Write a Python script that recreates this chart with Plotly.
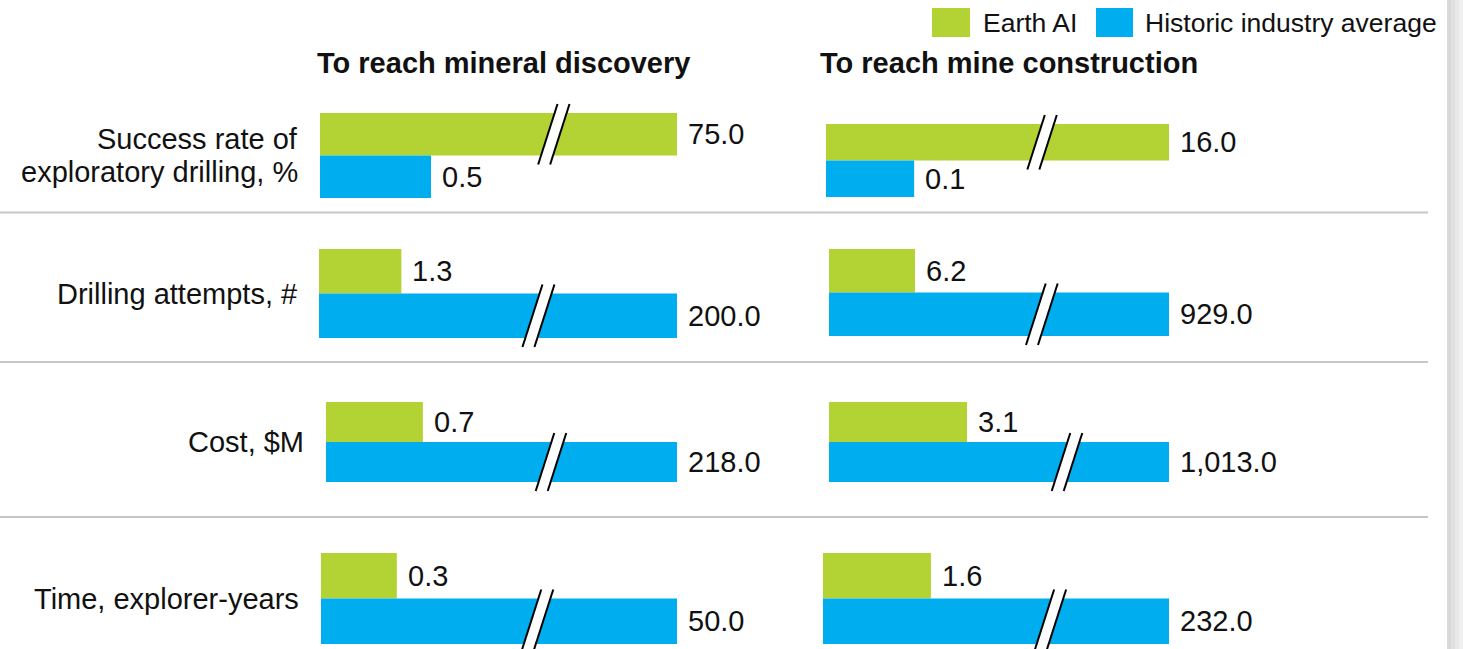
import plotly.graph_objects as go

W, H = 1463, 649

# ---------------- data ----------------
series = ["Earth AI", "Historic industry average"]
colors = ["#B3D335", "#00AEEF"]
metrics = ["Success rate of<br>exploratory drilling, %", "Drilling attempts, #",
           "Cost, $M", "Time, explorer-years"]
panels = ["To reach mineral discovery", "To reach mine construction"]

# reported values (labels)
earth_discovery = [75.0, 1.3, 0.7, 0.3]
hist_discovery = [0.5, 200.0, 218.0, 50.0]
earth_construction = [16.0, 6.2, 3.1, 1.6]
hist_construction = [0.1, 929.0, 1013.0, 232.0]

# drawn bar lengths on the broken axis (% of the full bar width)
earth_discovery_len = [100, 23.0, 27.6, 21.3]
hist_discovery_len = [31.1, 100, 100, 100]
earth_construction_len = [100, 25.3, 40.6, 31.2]
hist_construction_len = [25.7, 100, 100, 100]

# ---------------- layout geometry (pixels) ----------------
# (x start, x end, y top, y bottom) of each row's pair of bars
geom = [
    [(320, 677, 113, 198), (319, 677, 249, 338), (326, 677, 402, 482), (321, 677, 553, 644)],
    [(826, 1169, 124, 197), (829, 1169, 249, 336), (829, 1169, 402, 482), (823, 1169, 553, 644)],
]
break_pos = [[0.655, 0.613, 0.641, 0.607], [0.63, 0.626, 0.70, 0.656]]
title_x = [315, 818]
sep_y = [212.5, 362, 517]

FONT = "Liberation Sans, Arial, Helvetica, sans-serif"
FS = 29
LINE_H = 32


def px(x):
    return x / W


def py(y):
    return 1 - y / H


panel_vals = [(earth_discovery, hist_discovery, earth_discovery_len, hist_discovery_len),
              (earth_construction, hist_construction, earth_construction_len, hist_construction_len)]

fig = go.Figure()
annotations = []
shapes = []
layout_axes = {}

k = 0
for p, (ev, hv, el, hl) in enumerate(panel_vals):
    vals = [ev, hv]
    lens = [el, hl]
    for r in range(4):
        k += 1
        xa = "x" if k == 1 else f"x{k}"
        ya = "y" if k == 1 else f"y{k}"
        x0, x1, yt, yb = geom[p][r]
        for s in range(2):
            fig.add_trace(go.Bar(
                x=[lens[s][r]], y=[series[s]], orientation="h", width=1,
                marker=dict(color=colors[s], line=dict(width=0)),
                xaxis=xa, yaxis=ya, showlegend=False, hoverinfo="skip",
            ))
            annotations.append(dict(
                x=lens[s][r], y=series[s], xref=xa, yref=ya,
                text=f"{vals[s][r]:,.1f}", showarrow=False,
                xanchor="left", yanchor="middle", xshift=9,
                font=dict(family=FONT, size=FS, color="#111"),
            ))
            # break marker on full-length (broken) bars
            if lens[s][r] >= 100:
                bh = (yb - yt) / 2
                btop = yt + s * bh
                yc = btop + bh / 2
                hh = bh / 2 + 9
                cx = x0 + break_pos[p][r] * (x1 - x0)
                slant = 0.32 * 2 * hh
                gap = 12
                ax_b, ax_t = cx - gap / 2 - slant / 2, cx - gap / 2 + slant / 2
                bx_b, bx_t = ax_b + gap, ax_t + gap
                path = (f"M {px(ax_b)},{py(yc + hh)} L {px(ax_t)},{py(yc - hh)} "
                        f"L {px(bx_t)},{py(yc - hh)} L {px(bx_b)},{py(yc + hh)} Z")
                shapes.append(dict(type="path", path=path, xref="paper", yref="paper",
                                   fillcolor="white", line=dict(width=0), layer="above"))
                for (xb, xt) in [(ax_b, ax_t), (bx_b, bx_t)]:
                    shapes.append(dict(type="line", xref="paper", yref="paper",
                                       x0=px(xb), y0=py(yc + hh), x1=px(xt), y1=py(yc - hh),
                                       line=dict(color="black", width=2), layer="above"))
        layout_axes["xaxis" if k == 1 else f"xaxis{k}"] = dict(
            domain=[px(x0), px(x1)], range=[0, 100], visible=False,
            fixedrange=True, anchor=ya)
        layout_axes["yaxis" if k == 1 else f"yaxis{k}"] = dict(
            domain=[py(yb), py(yt)], type="category", categoryorder="array",
            categoryarray=series, range=[1.5, -0.5], visible=False,
            fixedrange=True, anchor=xa)

# row labels (placed left of the left panel bars), one annotation per text line
for r in range(4):
    x0, x1, yt, yb = geom[0][r]
    lines = metrics[r].split("<br>")
    yc = (yt + yb) / 2
    n = len(lines)
    for i, line in enumerate(lines):
        yl = yc + (i - (n - 1) / 2) * LINE_H
        annotations.append(dict(
            x=px(x0 - 20), y=py(yl), xref="paper", yref="paper",
            text=line, showarrow=False, xanchor="right", yanchor="middle",
            align="right", font=dict(family=FONT, size=FS, color="#111"),
        ))

# panel titles
for p in range(2):
    annotations.append(dict(
        x=px(title_x[p]), y=py(63), xref="paper", yref="paper",
        text=f"<b>{panels[p]}</b>", showarrow=False, xanchor="left", yanchor="middle",
        font=dict(family=FONT, size=FS, color="#111"),
    ))

# separators
for y in sep_y:
    shapes.append(dict(type="line", xref="paper", yref="paper",
                       x0=0, x1=px(1428), y0=py(y), y1=py(y),
                       line=dict(color="#c6c6c6", width=2), layer="below"))

# legend (manual)
leg = [(932, 970, 981), (1096, 1133, 1143)]
for s in range(2):
    a, b, t = leg[s]
    shapes.append(dict(type="rect", xref="paper", yref="paper",
                       x0=px(a), x1=px(b), y0=py(37), y1=py(8),
                       fillcolor=colors[s], line=dict(width=0)))
    annotations.append(dict(
        x=px(t), y=py(22.5), xref="paper", yref="paper", text=series[s],
        showarrow=False, xanchor="left", yanchor="middle",
        font=dict(family=FONT, size=26.5, color="#111"),
    ))

# right-edge shadow band
band = ["#d9d9d9", "#e1e1e1", "#e8e8e8", "#efefef"]
for i, c in enumerate(band):
    shapes.append(dict(type="rect", xref="paper", yref="paper",
                       x0=px(1447 + 4 * i), x1=px(1451 + 4 * i), y0=0, y1=1,
                       fillcolor=c, line=dict(width=0), layer="below"))

fig.update_layout(
    width=W, height=H,
    margin=dict(l=0, r=0, t=0, b=0),
    paper_bgcolor="white", plot_bgcolor="rgba(0,0,0,0)",
    barmode="overlay", showlegend=False,
    annotations=annotations, shapes=shapes,
    font=dict(family=FONT),
    **layout_axes,
)

fig.write_html("out.html", config={"displayModeBar": False},
               post_script="document.body.style.margin='0';document.body.style.overflow='hidden';")
